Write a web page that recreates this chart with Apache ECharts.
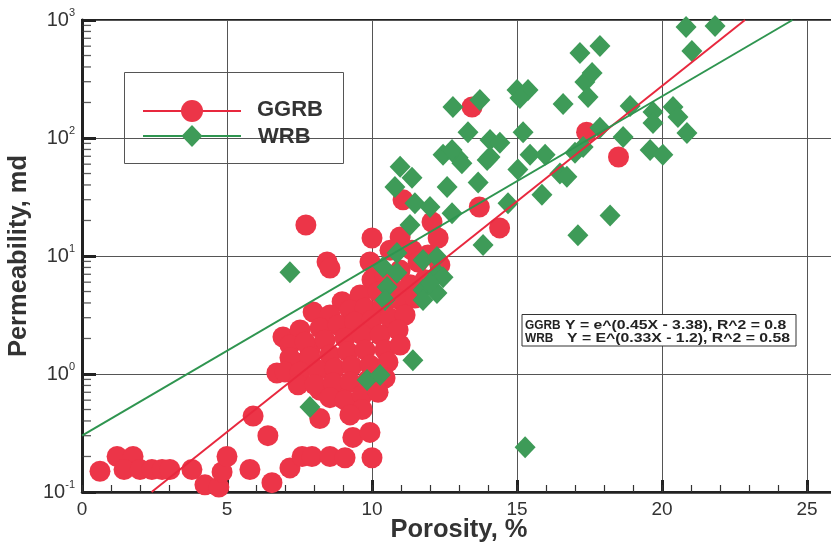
<!DOCTYPE html>
<html><head><meta charset="utf-8">
<script src="https://cdn.jsdelivr.net/npm/echarts@6/dist/echarts.min.js"></script>
<style>html,body{margin:0;padding:0;background:#fff}#c{width:831px;height:547px}</style>
</head><body><div id="c"></div>
<script>
// ---- data ----
const xMin = 0, xMax = 26, xInterval = 5;
const yMin = 0.1, yMax = 1000;
const yMinorTicks = [0.2,0.3,0.4,0.5,0.6,0.7,0.8,0.9, 2,3,4,5,6,7,8,9, 20,30,40,50,60,70,80,90, 200,300,400,500,600,700,800,900];
const seriesNames = ['GGRB', 'WRB'];
const equations = ['Y = e^(0.45X - 3.38), R^2 = 0.8', 'Y = E^(0.33X - 1.2), R^2 = 0.58'];

const ggrbPoints = [
  // low-permeability cluster
  [0.62,0.15],[1.21,0.20],[1.76,0.20],[1.45,0.155],[2.0,0.155],[2.41,0.155],[2.76,0.155],[3.03,0.155],[3.79,0.155],
  [4.24,0.115],[4.72,0.11],[4.83,0.148],[5.0,0.20],[5.79,0.155],[5.9,0.44],[6.41,0.30],[6.55,0.12],
  [7.17,0.16],[7.59,0.20],[7.93,0.20],[8.55,0.20],[9.07,0.195],[9.34,0.29],[9.93,0.32],[10.0,0.195],
  // isolated points
  [7.72,18.3],[8.45,8.9],[8.55,7.9],[10.0,14.2],[9.93,8.9],[7.97,3.35],[8.97,4.1],[6.93,2.06],[6.72,1.02],
  [7.41,1.24],[7.86,1.6],[8.2,0.73],[8.2,0.42],[9.48,0.57],[8.9,0.64],[11.07,29.9],[12.07,19.4],[10.97,14.5],
  [12.28,14.2],[13.45,183],[17.4,112],[18.5,69],[13.7,26],[14.4,17.3],[11.38,11.2],[10.62,11.2],
  // main cluster
  [10.0,6.3],[10.45,6.9],[10.97,7.6],[11.59,8.9],[11.93,10.2],
  [9.59,4.67],[10.21,4.95],[10.79,5.15],[11.31,5.7],[11.83,6.3],[12.34,8.4],
  [8.55,3.16],[9.24,3.49],[9.76,3.62],[10.38,3.84],[10.97,4.24],[11.48,4.4],
  [7.52,2.36],[8.21,2.45],[8.83,2.6],[9.41,2.76],[10.0,2.87],[10.62,2.98],[11.14,3.16],
  [7.17,1.76],[7.69,1.87],[8.38,1.94],[9.07,2.02],[9.66,2.14],[10.28,2.14],[10.9,2.36],
  [7.17,1.37],[7.86,1.39],[8.55,1.45],[9.17,1.54],[9.76,1.6],[10.45,1.6],[10.97,1.76],
  [7.0,1.04],[7.52,1.04],[8.14,1.08],[8.72,1.12],[9.31,1.17],[9.93,1.19],[10.55,1.26],
  [7.45,0.81],[8.03,0.81],[8.66,0.84],[9.24,0.855],[9.86,0.89],[10.45,0.925],
  [8.55,0.63],[9.07,0.60],[9.66,0.66],[10.21,0.70],[9.66,0.50],[9.24,0.45]
];

const wrbPoints = [
  [20.83,873],[21.83,889],[21.03,546],[17.17,525],[17.86,602],[17.34,298],[17.59,356],[17.45,223],
  [15.0,255],[15.38,255],[15.1,218],[12.79,183],[13.72,210],[16.59,194],[18.9,187],[19.69,166],
  [20.38,183],[20.55,151],[19.69,134],[20.86,110],[18.66,102],[17.86,122],[13.31,112],[15.21,112],
  [12.45,72],[12.97,68],[13.1,61],[14.07,96],[14.41,91],[14.07,69],[15.45,72],[15.97,72],[17.0,75],
  [17.28,84],[19.59,79],[20.03,72],[15.03,54],[16.48,50],[16.72,47],[13.66,42],[12.59,38.4],
  [14.69,28],[15.86,33],[18.21,22],[17.1,15],[13.83,12.4],[10.97,57],[11.38,46],[10.79,38.4],
  [12.76,79],[13.97,65],[11.48,28],[12.0,26],[12.76,23],[11.31,18.3],[10.86,10.6],[11.76,9.25],
  [12.24,9.8],[10.38,8.07],[10.86,7.2],[12.24,7.2],[12.45,6.6],[10.52,5.46],[11.76,5.15],[12.24,4.86],
  [10.45,4.24],[11.76,4.24],[11.41,1.31],[9.83,0.89],[10.28,0.98],[7.86,0.525],[7.17,7.3],[15.28,0.24],[12.0,5.9]
];

const ggrbFit = [[2.4,0.1],[22.86,1000]];
const wrbFit = [[0,0.30],[24.5,1000]];

// ---- chart ----
const RED = '#ec3548', GREEN = '#3e9b58', RED_LINE = '#e8283e', GREEN_LINE = '#2f9550';
const FONT = 'Liberation Sans';
const chart = echarts.init(document.getElementById('c'), null, {renderer: 'canvas'});

chart.setOption({
  backgroundColor: '#fff',
  animation: false,
  textStyle: {fontFamily: FONT},
  grid: {left: 82, top: 20, width: 754, height: 472, show: true, borderColor: '#222', borderWidth: 2,
         containLabel: false, outerBoundsMode: 'none'},
  xAxis: [{
    type: 'value', min: xMin, max: xMax, interval: xInterval,
    name: 'Porosity, %', nameLocation: 'middle', nameGap: 25, nameMoveOverlap: false,
    nameTextStyle: {fontFamily: FONT, fontSize: 25.5, fontWeight: 'bold', color: '#333'},
    axisLine: {show: true, lineStyle: {color: '#222', width: 2.5}},
    axisTick: {show: true, inside: true, length: 12, lineStyle: {color: '#222', width: 3}},
    axisLabel: {fontFamily: FONT, fontSize: 19, color: '#333', margin: 8, showMaxLabel: false},
    splitLine: {show: true, lineStyle: {color: '#555', width: 1}}
  }, {
    type: 'value', min: xMin, max: xMax, interval: 1, position: 'bottom', gridIndex: 0,
    axisLine: {show: false}, axisLabel: {show: false}, splitLine: {show: false},
    axisTick: {show: true, inside: true, length: 7, lineStyle: {color: '#333', width: 1.2}}
  }],
  yAxis: {
    type: 'log', logBase: 10, min: yMin, max: yMax,
    name: 'Permeability, md', nameLocation: 'middle', nameGap: 46, nameRotate: 90,
    nameTextStyle: {fontFamily: FONT, fontSize: 25.5, fontWeight: 'bold', color: '#333'},
    axisLine: {show: true, lineStyle: {color: '#222', width: 3}},
    axisTick: {show: true, inside: true, length: 14, lineStyle: {color: '#222', width: 3}},
    axisLabel: {
      margin: 7, color: '#333',
      formatter: v => '{b|10}{s|' + Math.round(Math.log10(v)) + '}',
      rich: {
        b: {fontFamily: FONT, fontSize: 20, lineHeight: 22, color: '#333'},
        s: {fontFamily: FONT, fontSize: 11, lineHeight: 11, padding: [0, 0, 14, 0], color: '#333'}
      }
    },
    splitLine: {show: true, lineStyle: {color: '#555', width: 1}}
  },
  series: [
    {
      type: 'scatter', name: 'yMinor', silent: true, z: 1, xAxisIndex: 0,
      data: yMinorTicks.map(v => [xMin, v]),
      symbol: 'rect', symbolSize: [9, 1.3], symbolOffset: [4.5, 0],
      itemStyle: {color: '#333', borderWidth: 0}, clip: false
    },
    {
      type: 'scatter', name: seriesNames[0], z: 2, xAxisIndex: 0,
      data: ggrbPoints, symbol: 'circle', symbolSize: 21,
      itemStyle: {color: RED, opacity: 1, borderWidth: 0, borderColor: RED}
    },
    {
      type: 'scatter', name: seriesNames[1], z: 3, xAxisIndex: 0,
      data: wrbPoints, symbol: 'diamond', symbolSize: [21, 22],
      itemStyle: {color: GREEN, opacity: 1, borderWidth: 0, borderColor: GREEN}
    },
    {
      type: 'line', name: seriesNames[0] + ' fit', z: 4, xAxisIndex: 0,
      data: ggrbFit, showSymbol: false, symbol: 'none', clip: true,
      lineStyle: {color: RED_LINE, width: 2}
    },
    {
      type: 'line', name: seriesNames[1] + ' fit', z: 4, xAxisIndex: 0,
      data: wrbFit, showSymbol: false, symbol: 'none', clip: true,
      lineStyle: {color: GREEN_LINE, width: 2}
    }
  ],
  graphic: [
    // legend
    {type: 'rect', shape: {x: 124.5, y: 72.5, width: 219, height: 91}, style: {fill: 'none', stroke: '#555', lineWidth: 1}, z: 10},
    {type: 'line', shape: {x1: 143, y1: 111, x2: 241, y2: 111}, style: {stroke: RED_LINE, lineWidth: 2}, z: 10},
    {type: 'circle', shape: {cx: 192, cy: 111, r: 11}, style: {fill: RED}, z: 11},
    {type: 'line', shape: {x1: 143, y1: 136, x2: 241, y2: 136}, style: {stroke: GREEN_LINE, lineWidth: 2}, z: 10},
    {type: 'polygon', shape: {points: [[192, 125], [202.5, 136], [192, 147], [181.5, 136]]}, style: {fill: GREEN}, z: 11},
    {type: 'text', x: 257, y: 110, style: {text: seriesNames[0], font: 'bold 22px ' + FONT, fill: '#333', verticalAlign: 'middle'}, z: 11},
    {type: 'text', x: 258, y: 137, style: {text: seriesNames[1], font: 'bold 22px ' + FONT, fill: '#333', verticalAlign: 'middle'}, z: 11},
    // equation box
    {type: 'rect', shape: {x: 522, y: 314.5, width: 274, height: 31.5}, style: {fill: '#fff', stroke: '#333', lineWidth: 1}, z: 10},
    {type: 'text', x: 525, y: 325, scaleX: 0.88, style: {text: seriesNames[0], font: 'bold 13.5px ' + FONT, fill: '#222', verticalAlign: 'middle'}, z: 11},
    {type: 'text', x: 525, y: 338.5, scaleX: 0.88, style: {text: seriesNames[1], font: 'bold 13.5px ' + FONT, fill: '#222', verticalAlign: 'middle'}, z: 11},
    {type: 'text', x: 565, y: 325, scaleX: 1.17, style: {text: equations[0], font: 'bold 13.5px ' + FONT, fill: '#222', verticalAlign: 'middle'}, z: 11},
    {type: 'text', x: 567, y: 338.5, scaleX: 1.17, style: {text: equations[1], font: 'bold 13.5px ' + FONT, fill: '#222', verticalAlign: 'middle'}, z: 11}
  ]
});
</script>
</body></html>
